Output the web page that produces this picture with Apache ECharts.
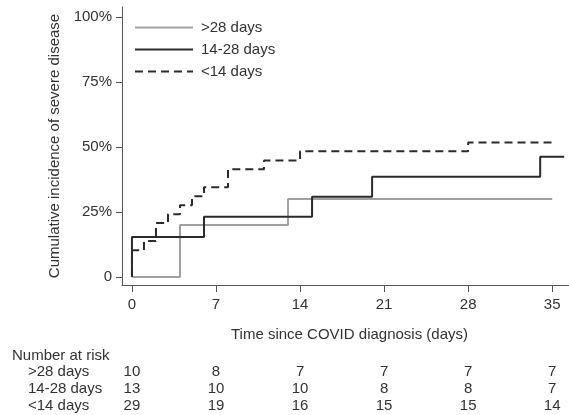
<!DOCTYPE html>
<html>
<head>
<meta charset="utf-8">
<script src="https://cdn.jsdelivr.net/npm/echarts@6/dist/echarts.min.js"></script>
<style>
  html, body { margin: 0; padding: 0; background: #fff; }
  #main { width: 569px; height: 415px; }
</style>
</head>
<body>
<div id="main"></div>
<script>
// KM step curves, cumulative incidence (%)
const daysOver28 = [0, 4, 13, 35];
const incOver28 = [0, 20, 30, 30];
const days14to28 = [0, 0, 6, 15, 20, 34, 36];
const inc14to28 = [0, 15.4, 23.1, 30.8, 38.5, 46.2, 46.2];
const daysUnder14 = [0, 0, 1, 2, 3, 4, 5, 6, 8, 11, 14, 28, 35];
const incUnder14 = [0, 10.3, 13.8, 20.7, 24.1, 27.6, 31.0, 34.5, 41.4, 44.8, 48.3, 51.7, 51.7];

const seriesNames = ['>28 days', '14-28 days', '<14 days'];
const xTicks = [0, 7, 14, 21, 28, 35];
const yTicks = [0, 25, 50, 75, 100];

// number at risk table
const riskOver28 = [10, 8, 7, 7, 7, 7];
const risk14to28 = [13, 10, 10, 8, 8, 7];
const riskUnder14 = [29, 19, 16, 15, 15, 14];

const font = 'Liberation Sans, Arial, sans-serif';
const txt = '#333333';
const fs = 15;

function pairs(xs, ys) {
  return xs.map((x, i) => [x, ys[i]]);
}

function riskAxis(values, offset) {
  return {
    type: 'value', gridIndex: 0, position: 'bottom', offset: offset,
    min: -0.83, max: 36.4,
    axisLine: { show: false }, axisTick: { show: false }, splitLine: { show: false },
    axisLabel: {
      customValues: xTicks, margin: 0,
      fontFamily: font, fontSize: fs, color: txt,
      formatter: v => String(values[xTicks.indexOf(v)])
    }
  };
}

var myChart = echarts.init(document.getElementById('main'));

var option = {
  backgroundColor: '#ffffff',
  animation: false,
  grid: { left: 122, right: 0, top: 7, bottom: 130, containLabel: false },
  legend: {
    orient: 'vertical', left: 134, top: 20, padding: 0,
    itemWidth: 58, itemHeight: 14, itemGap: 7,
    itemStyle: { opacity: 0 },
    textStyle: { fontFamily: font, fontSize: fs, color: txt, padding: [0, 0, 0, 3] },
    data: seriesNames
  },
  xAxis: [
    {
      type: 'value', min: -0.83, max: 36.4,
      name: 'Time since COVID diagnosis (days)', nameLocation: 'middle', nameGap: 42,
      nameTextStyle: { fontFamily: font, fontSize: fs, color: txt, padding: [0, 0, 0, 8] },
      axisLine: { onZero: false, lineStyle: { color: '#555', width: 1 } },
      axisTick: { customValues: xTicks, length: 7, lineStyle: { color: '#555' } },
      axisLabel: { customValues: xTicks, margin: 12, fontFamily: font, fontSize: fs, color: txt },
      splitLine: { show: false }
    },
    riskAxis(riskOver28, 79),
    riskAxis(risk14to28, 96),
    riskAxis(riskUnder14, 113)
  ],
  yAxis: {
    type: 'value', min: -3.1, max: 103.8,
    name: 'Cumulative incidence of severe disease', nameLocation: 'middle', nameGap: 57,
    nameTextStyle: { fontFamily: font, fontSize: fs, color: txt },
    axisLine: { show: true, onZero: false, lineStyle: { color: '#555', width: 1 } },
    axisTick: { show: true, customValues: yTicks, length: 6, lineStyle: { color: '#555' } },
    axisLabel: {
      customValues: yTicks, margin: 10, fontFamily: font, fontSize: fs, color: txt,
      formatter: v => v === 0 ? '0' : v + '%'
    },
    splitLine: { show: false }
  },
  graphic: [
    { type: 'text', left: 12, top: 348, style: { text: 'Number at risk', font: fs + 'px ' + font, fill: txt } },
    { type: 'text', left: 28, top: 364, style: { text: seriesNames[0], font: fs + 'px ' + font, fill: txt } },
    { type: 'text', left: 28, top: 381, style: { text: seriesNames[1], font: fs + 'px ' + font, fill: txt } },
    { type: 'text', left: 28, top: 398, style: { text: seriesNames[2], font: fs + 'px ' + font, fill: txt } }
  ],
  series: [
    {
      name: seriesNames[0], type: 'line', step: 'end', symbol: 'none',
      lineStyle: { color: '#a0a0a0', width: 2 }, itemStyle: { color: '#a0a0a0' },
      data: pairs(daysOver28, incOver28)
    },
    {
      name: seriesNames[1], type: 'line', step: 'end', symbol: 'none',
      lineStyle: { color: '#2b2b2b', width: 2 }, itemStyle: { color: '#2b2b2b' },
      data: pairs(days14to28, inc14to28)
    },
    {
      name: seriesNames[2], type: 'line', step: 'end', symbol: 'none',
      lineStyle: { color: '#2b2b2b', width: 2, type: [8, 5] }, itemStyle: { color: '#2b2b2b' },
      data: pairs(daysUnder14, incUnder14)
    }
  ]
};

myChart.setOption(option);
</script>
</body>
</html>
